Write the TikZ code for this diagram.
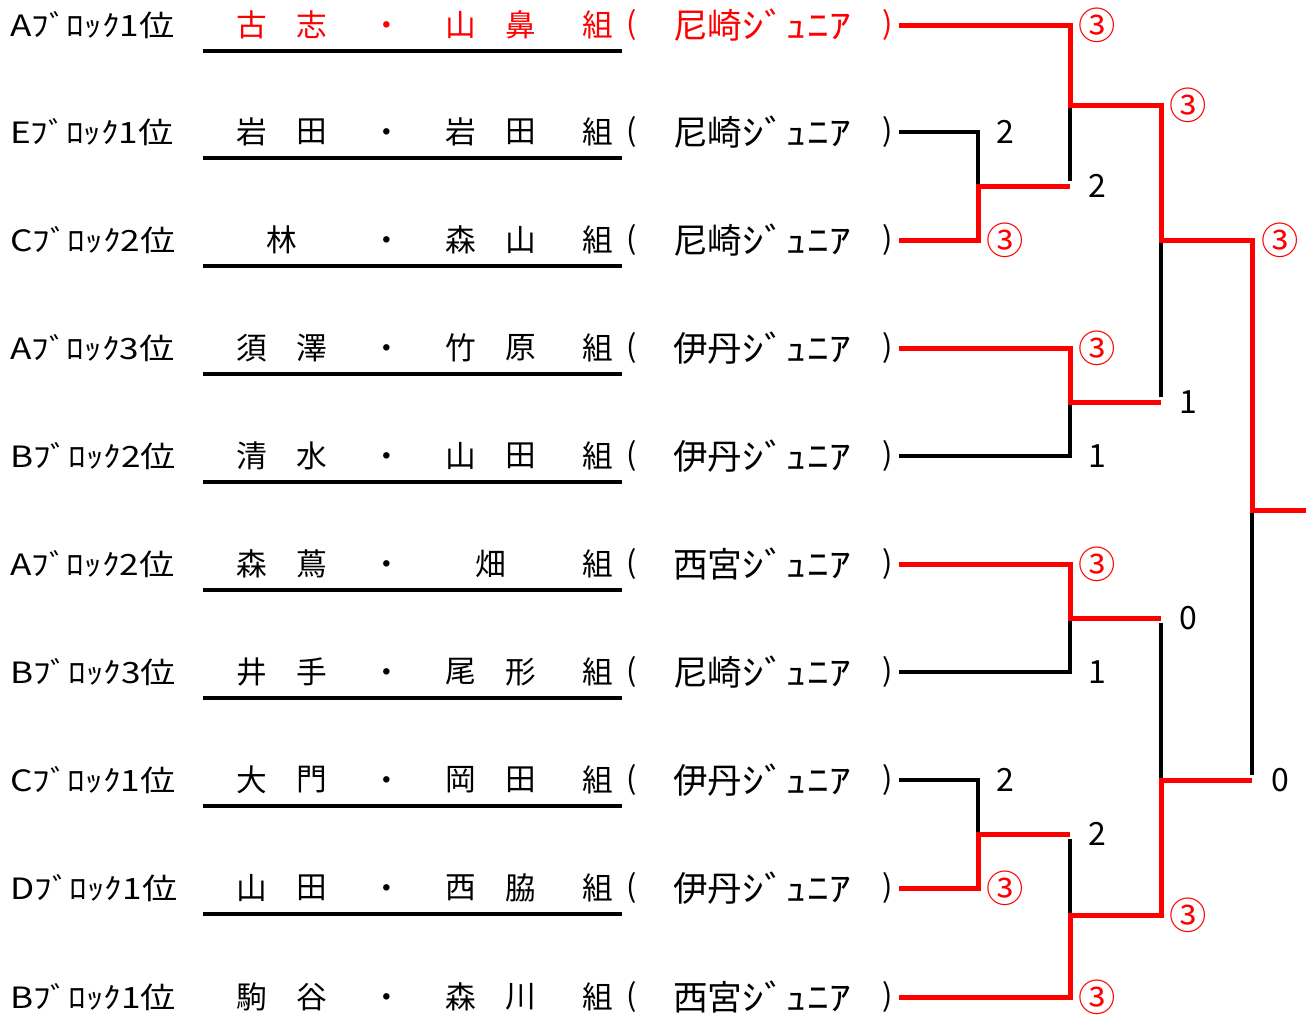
\documentclass[tikz,border=0pt]{standalone}
\usepackage{fontspec}
\setmainfont{Noto Sans CJK JP}
\definecolor{rd}{RGB}{255,0,0}
\begin{document}
\begin{tikzpicture}[x=0.75pt,y=-0.75pt,
  lbl/.style={anchor=west,inner sep=0pt,font=\fontsize{22}{22}\selectfont},
  nm/.style={inner sep=0pt,font=\fontsize{23}{23}\selectfont},
  tmst/.style={inner sep=0pt,anchor=west,font=\fontsize{26}{26}\selectfont},
  sc/.style={inner sep=0pt,font=\fontsize{24}{24}\selectfont},
  win/.style={inner sep=0pt,font=\fontsize{28}{28}\selectfont,text=rd},
  rl/.style={line width=3.75pt,draw=rd,shorten <=4pt},
  bl/.style={line width=2.4pt,draw=black,shorten <=4pt},
  ul/.style={line width=2.4pt}]
\useasboundingbox[fill=white] (0,0) rectangle (1306,1022);

\foreach \i/\y/\a/\ax/\b/\c/\cx/\d/\team/\col in {
  1/25/古/252/志/山/461/鼻/尼崎/rd,
  2/132/岩/252/田/岩/461/田/尼崎/black,
  3/240/林/282//森/461/山/尼崎/black,
  4/348/須/252/澤/竹/461/原/伊丹/black,
  5/456/清/252/水/山/461/田/伊丹/black,
  6/564/森/252/蔦/畑/491//西宮/black,
  7/672/井/252/手/尾/461/形/尼崎/black,
  8/780/大/252/門/岡/461/田/伊丹/black,
  9/888/山/252/田/西/461/脇/伊丹/black,
  10/997/駒/252/谷/森/461/川/西宮/black}{
  \node[nm,text=\col] (na\i) at (\ax,\y) {\a};
  \node[nm,text=\col] (nb\i) at (312,\y) {\b};
  \node[nm,text=\col] (dot\i) at (387,{\y+4}) {・};
  \node[nm,text=\col] (nc\i) at (\cx,\y) {\c};
  \node[nm,text=\col] (nd\i) at (521,\y) {\d};
  \node[nm,text=\col] (kumi\i) at (598,\y) {組};
  \node[nm,text=\col] (lp\i) at (632,\y) {(};
  \node[tmst,text=\col] (tm\i) at (673,\y) {\team\scalebox{1.25}[1]{ｼﾞｭﾆｱ}};
  \node[nm,text=\col] (rp\i) at (888,\y) {)};
}
\node[lbl] (lab1) at (10,25) {\scalebox{1.2}[1]{Aﾌﾞﾛｯｸ1位}};
\node[lbl] (lab2) at (10,132) {\scalebox{1.2}[1]{Eﾌﾞﾛｯｸ1位}};
\node[lbl] (lab3) at (10,240) {\scalebox{1.2}[1]{Cﾌﾞﾛｯｸ2位}};
\node[lbl] (lab4) at (10,348) {\scalebox{1.2}[1]{Aﾌﾞﾛｯｸ3位}};
\node[lbl] (lab5) at (10,456) {\scalebox{1.2}[1]{Bﾌﾞﾛｯｸ2位}};
\node[lbl] (lab6) at (10,564) {\scalebox{1.2}[1]{Aﾌﾞﾛｯｸ2位}};
\node[lbl] (lab7) at (10,672) {\scalebox{1.2}[1]{Bﾌﾞﾛｯｸ3位}};
\node[lbl] (lab8) at (10,780) {\scalebox{1.2}[1]{Cﾌﾞﾛｯｸ1位}};
\node[lbl] (lab9) at (10,888) {\scalebox{1.2}[1]{Dﾌﾞﾛｯｸ1位}};
\node[lbl] (lab10) at (10,997) {\scalebox{1.2}[1]{Bﾌﾞﾛｯｸ1位}};

\foreach \y in {25,132,240,348,456,564,672,780,888}{
  \draw[ul] (203,{\y+26}) -- (622,{\y+26});
}

% bracket joints
\coordinate (m23) at (978,186);
\coordinate (a23) at (1070,186);
\coordinate (m1) at (1070,105);
\coordinate (a1) at (1161,105);
\coordinate (m45) at (1070,402);
\coordinate (a45) at (1161,402);
\coordinate (mA) at (1161,240);
\coordinate (aA) at (1252,240);
\coordinate (m67) at (1070,618);
\coordinate (a67) at (1161,618);
\coordinate (m89) at (978,834);
\coordinate (a89) at (1070,834);
\coordinate (m10) at (1070,915);
\coordinate (a10) at (1161,915);
\coordinate (mB) at (1161,780);
\coordinate (aB) at (1252,780);
\coordinate (mF) at (1252,510);
\coordinate (fin) at (1306,510);

% losing lines
\draw[bl] (rp2.east) -| (m23);
\draw[bl] (a23) -- (m1);
\draw[bl] (rp5.east) -| (m45);
\draw[bl] (a45) -- (mA);
\draw[bl] (rp7.east) -| (m67);
\draw[bl] (a67) -- (mB);
\draw[bl] (rp8.east) -| (m89);
\draw[bl] (a89) -- (m10);
\draw[bl] (aB) -- (mF);

% winning lines
\draw[rl] (rp1.east) -| (m1) -- (a1) -- (mA) -- (aA) -- (mF) -- (fin);
\draw[rl] (rp3.east) -| (m23) -- (a23);
\draw[rl] (rp4.east) -| (m45) -- (a45);
\draw[rl] (rp6.east) -| (m67) -- (a67);
\draw[rl] (rp9.east) -| (m89) -- (a89);
\draw[rl] (rp10.east) -| (m10) -- (a10) -- (mB) -- (aB);

% scores
\node[win] (s1) at (1097,25) {③};
\node[win] (s2) at (1188,105) {③};
\node[sc] (s3) at (1005,132) {2};
\node[sc] (s4) at (1097,186) {2};
\node[win] (s5) at (1005,240) {③};
\node[win] (s6) at (1280,240) {③};
\node[win] (s7) at (1097,348) {③};
\node[sc] (s8) at (1188,402) {1};
\node[sc] (s9) at (1097,456) {1};
\node[win] (s10) at (1097,564) {③};
\node[sc] (s11) at (1188,618) {0};
\node[sc] (s12) at (1097,672) {1};
\node[sc] (s13) at (1005,780) {2};
\node[sc] (s14) at (1280,780) {0};
\node[sc] (s15) at (1097,834) {2};
\node[win] (s16) at (1005,888) {③};
\node[win] (s17) at (1188,915) {③};
\node[win] (s18) at (1097,997) {③};
\end{tikzpicture}
\end{document}
